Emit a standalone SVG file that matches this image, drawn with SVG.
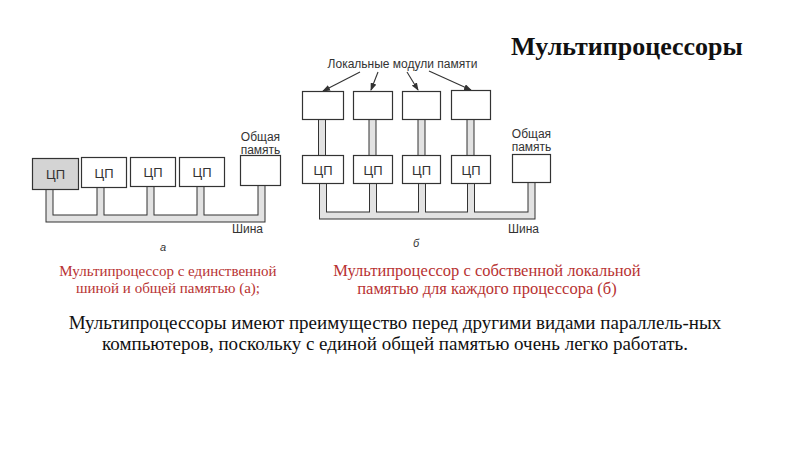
<svg xmlns="http://www.w3.org/2000/svg" width="800" height="450" viewBox="0 0 800 450">
<style>
.box{fill:#fff;stroke:#333;stroke-width:1.2}
.shade{fill:#d4d4d4}
.lbl{font-family:"Liberation Sans",Arial,sans-serif;font-size:12px;fill:#333}
.cpu{font-family:"Liberation Sans",Arial,sans-serif;font-size:13px;fill:#333;text-anchor:middle}
.bus-o{fill:none;stroke:#333;stroke-width:8}
.bus-i{fill:none;stroke:#e2e2e2;stroke-width:6}
.arr{stroke:#333;stroke-width:1.1;fill:none;marker-end:url(#ah)}
.cap{font-family:"Liberation Serif","Times New Roman",serif;font-size:15px;fill:#b83232;text-anchor:middle}
.capr{font-size:16.5px}
.body{font-family:"Liberation Serif","Times New Roman",serif;font-size:19px;fill:#111;text-anchor:middle}
.it{font-family:"Liberation Sans",Arial,sans-serif;font-size:11px;font-style:italic;fill:#333}
</style>
<defs>
<marker id="ah" markerWidth="8" markerHeight="6" refX="7" refY="3" orient="auto" markerUnits="userSpaceOnUse">
<path d="M0,0 L8,3 L0,6 Z" fill="#333"/>
</marker>
</defs>
<rect width="800" height="450" fill="#fff"/>
<text x="627" y="55" text-anchor="middle" font-family="Liberation Serif,'Times New Roman',serif" font-size="26" font-weight="bold" fill="#111">Мультипроцессоры</text>
<g id="connectors">
<g class="bus-o">
<path d="M49.5,189 V218.5 H261.5 V185"/>
<path d="M100.5,187 V218.5 M150.5,186 V218.5 M200.5,186 V218.5"/>
<path d="M323,183 V215.5 H531.5 V182"/>
<path d="M373,183 V215.5 M422,183 V215.5 M471,183 V215.5"/>
<path d="M322,119 V156 M372.5,119 V156 M421.5,119 V156 M470.5,119 V156"/>
</g>
<g class="bus-i">
<path d="M49.5,189 V218.5 H261.5 V185"/>
<path d="M100.5,187 V218.5 M150.5,186 V218.5 M200.5,186 V218.5"/>
<path d="M323,183 V215.5 H531.5 V182"/>
<path d="M373,183 V215.5 M422,183 V215.5 M471,183 V215.5"/>
<path d="M322,119 V156 M372.5,119 V156 M421.5,119 V156 M470.5,119 V156"/>
</g>
<line class="arr" x1="360" y1="72" x2="323" y2="91"/>
<line class="arr" x1="378" y1="72" x2="371" y2="90"/>
<line class="arr" x1="407" y1="72" x2="418" y2="90"/>
<line class="arr" x1="429" y1="71" x2="471" y2="90"/>
</g>
<g id="a-cpu1"><rect class="box shade" x="32.5" y="158.5" width="46" height="31"/><text class="cpu" x="55.5" y="179">ЦП</text></g>
<g id="a-cpu2"><rect class="box" x="81.5" y="157.5" width="45" height="30"/><text class="cpu" x="104" y="177.5">ЦП</text></g>
<g id="a-cpu3"><rect class="box" x="130.5" y="157.5" width="45" height="29"/><text class="cpu" x="153" y="177">ЦП</text></g>
<g id="a-cpu4"><rect class="box" x="179.5" y="157.5" width="45" height="29"/><text class="cpu" x="202" y="177">ЦП</text></g>
<g id="a-mem"><rect class="box" x="240.5" y="155.5" width="40" height="30"/><text class="lbl" x="260.5" y="141" text-anchor="middle">Общая</text><text class="lbl" x="260.5" y="154" text-anchor="middle">память</text></g>
<text class="lbl" x="232" y="233">Шина</text>
<text class="it" x="160" y="251">а</text>
<text class="lbl" x="402.5" y="68" text-anchor="middle">Локальные модули памяти</text>
<g id="b-lm1"><rect class="box" x="302.5" y="91.5" width="41" height="28"/></g>
<g id="b-lm2"><rect class="box" x="353.5" y="91.5" width="39" height="28"/></g>
<g id="b-lm3"><rect class="box" x="402.5" y="91.5" width="38" height="28"/></g>
<g id="b-lm4"><rect class="box" x="451.5" y="90.5" width="39" height="29"/></g>
<g id="b-cpu1"><rect class="box" x="302.5" y="155.5" width="41" height="28"/><text class="cpu" x="323" y="174.5">ЦП</text></g>
<g id="b-cpu2"><rect class="box" x="353.5" y="155.5" width="39" height="28"/><text class="cpu" x="373" y="174.5">ЦП</text></g>
<g id="b-cpu3"><rect class="box" x="402.5" y="155.5" width="38" height="28"/><text class="cpu" x="421.5" y="174.5">ЦП</text></g>
<g id="b-cpu4"><rect class="box" x="451.5" y="155.5" width="39" height="28"/><text class="cpu" x="471" y="174.5">ЦП</text></g>
<g id="b-mem"><rect class="box" x="512.5" y="154.5" width="38" height="28"/><text class="lbl" x="531.5" y="138" text-anchor="middle">Общая</text><text class="lbl" x="531.5" y="151" text-anchor="middle">память</text></g>
<text class="lbl" x="508" y="233">Шина</text>
<text class="it" x="413" y="247">б</text>
<text class="cap" x="168" y="276">Мультипроцессор с единственной</text>
<text class="cap" x="168" y="293">шиной и общей памятью (а);</text>
<text class="cap capr" x="487" y="276">Мультипроцессор с собственной локальной</text>
<text class="cap capr" x="487" y="294">памятью для каждого процессора (б)</text>
<text class="body" x="395" y="329">Мультипроцессоры имеют преимущество перед другими видами параллель-ных</text>
<text class="body" x="395" y="350">компьютеров, поскольку с единой общей памятью очень легко работать.</text>
</svg>
